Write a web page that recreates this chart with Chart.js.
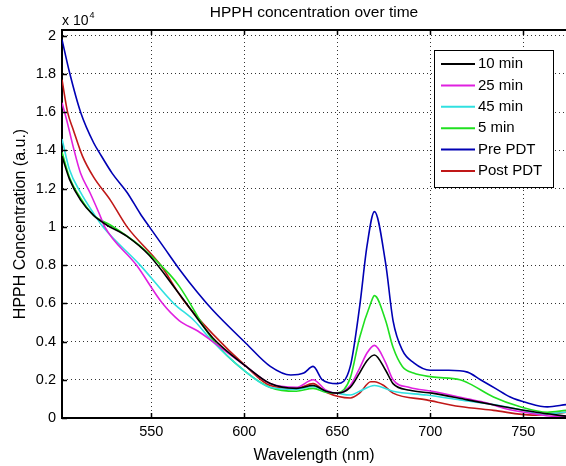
<!DOCTYPE html>
<html>
<head>
<meta charset="utf-8">
<script src="https://cdn.jsdelivr.net/npm/chart.js@4/dist/chart.umd.min.js"></script>
<style>
  html, body { margin: 0; padding: 0; background: #fff; overflow: hidden; }
</style>
</head>
<body>
<canvas id="chart" width="566" height="466"></canvas>
<script>
// values are in units of 10^4 (a.u.), wavelengths in nm
const min10X = [502, 506, 512, 519, 526, 537, 549, 565, 583, 601, 614, 628, 637, 644, 650, 657, 662, 666, 670, 676, 680, 689, 701, 720, 739, 757, 773];
const min10Y = [1.37, 1.25, 1.14, 1.06, 1.01, 0.95, 0.85, 0.65, 0.42, 0.27, 0.18, 0.155, 0.17, 0.14, 0.13, 0.16, 0.235, 0.30, 0.33, 0.25, 0.18, 0.145, 0.13, 0.095, 0.06, 0.03, 0.01];

const min25X = [502, 505, 508, 512, 517, 522, 525, 542, 556, 565, 575, 583, 601, 614, 628, 637, 644, 650, 657, 662, 666, 670, 676, 680, 689, 701, 720, 730, 740, 757, 765, 773];
const min25Y = [1.65, 1.54, 1.42, 1.28, 1.18, 1.07, 1.00, 0.80, 0.60, 0.51, 0.455, 0.40, 0.27, 0.18, 0.16, 0.20, 0.145, 0.13, 0.17, 0.26, 0.34, 0.38, 0.29, 0.20, 0.16, 0.14, 0.10, 0.08, 0.05, 0.02, 0.01, 0.01];

const min45X = [502, 506, 512, 519, 524, 544, 562, 573, 583, 601, 614, 628, 637, 644, 650, 657, 662, 670, 680, 698, 716, 734, 750, 760, 773];
const min45Y = [1.46, 1.30, 1.18, 1.07, 1.00, 0.80, 0.60, 0.51, 0.40, 0.24, 0.16, 0.15, 0.165, 0.14, 0.13, 0.12, 0.14, 0.17, 0.14, 0.12, 0.095, 0.07, 0.04, 0.02, 0.03];

const min5X = [502, 506, 512, 519, 528, 544, 560, 565, 583, 601, 614, 628, 637, 644, 650, 657, 662, 668, 670, 676, 680, 685, 691, 701, 716, 721, 734, 748, 763, 773];
const min5Y = [1.39, 1.26, 1.15, 1.06, 1.01, 0.90, 0.75, 0.69, 0.41, 0.24, 0.16, 0.14, 0.155, 0.135, 0.13, 0.21, 0.42, 0.60, 0.64, 0.51, 0.37, 0.27, 0.235, 0.215, 0.20, 0.18, 0.11, 0.06, 0.03, 0.04];

const preX = [502, 506, 512, 519, 522, 529, 537, 544, 549, 557, 565, 575, 583, 601, 614, 625, 632, 637, 642, 650, 657, 662, 666, 670, 676, 680, 685, 691, 700, 710, 720, 727, 735, 743, 752, 763, 773];
const preY = [1.98, 1.81, 1.60, 1.44, 1.39, 1.28, 1.18, 1.07, 1.00, 0.89, 0.78, 0.655, 0.565, 0.39, 0.27, 0.225, 0.235, 0.27, 0.20, 0.18, 0.27, 0.58, 0.90, 1.08, 0.81, 0.51, 0.355, 0.29, 0.25, 0.25, 0.24, 0.20, 0.155, 0.11, 0.08, 0.058, 0.07];

const postX = [502, 505, 508, 513, 519, 528, 537, 555, 567, 583, 601, 614, 628, 637, 644, 657, 662, 668, 670, 675, 680, 698, 716, 734, 755, 768, 773];
const postY = [1.77, 1.60, 1.51, 1.37, 1.26, 1.14, 1.00, 0.80, 0.62, 0.44, 0.27, 0.17, 0.155, 0.18, 0.135, 0.105, 0.13, 0.19, 0.19, 0.17, 0.13, 0.095, 0.06, 0.04, 0.015, 0.025, 0.03];

const seriesNames = ['10 min', '25 min', '45 min', '5 min', 'Pre PDT', 'Post PDT'];
const seriesColors = ['#000000', '#e020e0', '#30e0e0', '#20e020', '#0000b4', '#c01818'];
const xTicks = [550, 600, 650, 700, 750];

const FONT_FAMILY = '"Liberation Sans", Arial, Helvetica, sans-serif';

function toPoints(xs, ys) {
    return xs.map((x, i) => ({ x: x, y: ys[i] }));
}

const seriesData = [
    toPoints(min10X, min10Y),
    toPoints(min25X, min25Y),
    toPoints(min45X, min45Y),
    toPoints(min5X, min5Y),
    toPoints(preX, preY),
    toPoints(postX, postY),
];

// MATLAB style box, inward ticks, exponent and legend
const matlabFrame = {
    id: 'matlabFrame',
    afterDraw(chart) {
        const ctx = chart.ctx;
        const area = chart.chartArea;
        const xs = chart.scales.x;
        const ys = chart.scales.y;
        ctx.save();
        ctx.strokeStyle = '#000';
        ctx.lineWidth = 2;
        ctx.beginPath();
        ctx.moveTo(area.left, area.top);
        ctx.lineTo(area.right, area.top);
        ctx.stroke();

        ctx.lineWidth = 1.5;
        ctx.beginPath();
        xTicks.forEach((t) => {
            const px = Math.round(xs.getPixelForValue(t)) + 0.5;
            ctx.moveTo(px, area.bottom);
            ctx.lineTo(px, area.bottom - 5);
            ctx.moveTo(px, area.top);
            ctx.lineTo(px, area.top + 5);
        });
        ys.ticks.forEach((t) => {
            const py = Math.round(ys.getPixelForValue(t.value)) + 0.5;
            ctx.moveTo(area.left, py);
            ctx.lineTo(area.left + 5, py);
        });
        ctx.stroke();

        // exponent label
        ctx.fillStyle = '#000';
        ctx.textBaseline = 'alphabetic';
        ctx.textAlign = 'left';
        ctx.font = '14px ' + FONT_FAMILY;
        ctx.fillText('x 10', area.left, 25);
        const w = ctx.measureText('x 10').width;
        ctx.font = '9px ' + FONT_FAMILY;
        ctx.fillText('4', area.left + w + 1, 18);

        // legend box
        const bx = 434, by = 50, bw = 119, bh = 137;
        ctx.fillStyle = '#fff';
        ctx.fillRect(bx, by, bw, bh);
        ctx.lineWidth = 1;
        ctx.strokeStyle = '#000';
        ctx.strokeRect(bx + 0.5, by + 0.5, bw, bh);
        ctx.font = '15px ' + FONT_FAMILY;
        ctx.textBaseline = 'middle';
        seriesNames.forEach((name, i) => {
            const ly = by + 14 + i * 21.4;
            ctx.strokeStyle = seriesColors[i];
            ctx.lineWidth = 2;
            ctx.beginPath();
            ctx.moveTo(bx + 7, ly);
            ctx.lineTo(bx + 41, ly);
            ctx.stroke();
            ctx.fillStyle = '#000';
            ctx.fillText(name, bx + 44, ly);
        });
        ctx.restore();
    }
};

const config = {
    type: 'line',
    data: {
        datasets: seriesNames.map((name, i) => ({
            label: name,
            data: seriesData[i],
            borderColor: seriesColors[i],
            backgroundColor: seriesColors[i],
            borderWidth: 1.6,
            pointRadius: 0,
            cubicInterpolationMode: 'monotone',
        })),
    },
    options: {
        responsive: false,
        animation: false,
        layout: { padding: { left: 0, right: 0, top: 0, bottom: 0 } },
        plugins: {
            legend: { display: false },
            tooltip: { enabled: false },
            title: {
                display: true,
                text: 'HPPH concentration over time',
                fullSize: false,
                color: '#000',
                font: { family: FONT_FAMILY, size: 15.5, weight: 'normal' },
                padding: { top: 3.2, bottom: 8.2 },
            },
        },
        scales: {
            x: {
                type: 'linear',
                min: 502,
                max: 773,
                afterFit: (s) => { s.height = 48; },
                afterBuildTicks: (s) => { s.ticks = xTicks.map((v) => ({ value: v })); },
                ticks: {
                    includeBounds: false,
                    color: '#000',
                    padding: 5.5,
                    font: { family: FONT_FAMILY, size: 14.5 },
                },
                grid: { color: '#333', lineWidth: 1, drawTicks: false },
                border: { color: '#000', width: 2, dash: [1, 3] },
                title: {
                    display: true,
                    text: 'Wavelength (nm)',
                    color: '#000',
                    font: { family: FONT_FAMILY, size: 16 },
                    padding: { top: 0, bottom: 1 },
                },
            },
            y: {
                min: 0,
                max: 2.03,
                afterFit: (s) => { s.width = 62; },
                ticks: {
                    stepSize: 0.2,
                    includeBounds: false,
                    color: '#000',
                    padding: 6,
                    font: { family: FONT_FAMILY, size: 14.5 },
                    callback: (v) => String(+v.toFixed(1)),
                },
                grid: { color: '#333', lineWidth: 1, drawTicks: false },
                border: { color: '#000', width: 2, dash: [1, 3] },
                title: {
                    display: true,
                    text: 'HPPH Concentration (a.u.)',
                    color: '#000',
                    font: { family: FONT_FAMILY, size: 16 },
                    padding: { top: 11, bottom: 0 },
                },
            },
        },
    },
    plugins: [matlabFrame],
};

window.hpphChart = new Chart(document.getElementById('chart'), config);
</script>
</body>
</html>
